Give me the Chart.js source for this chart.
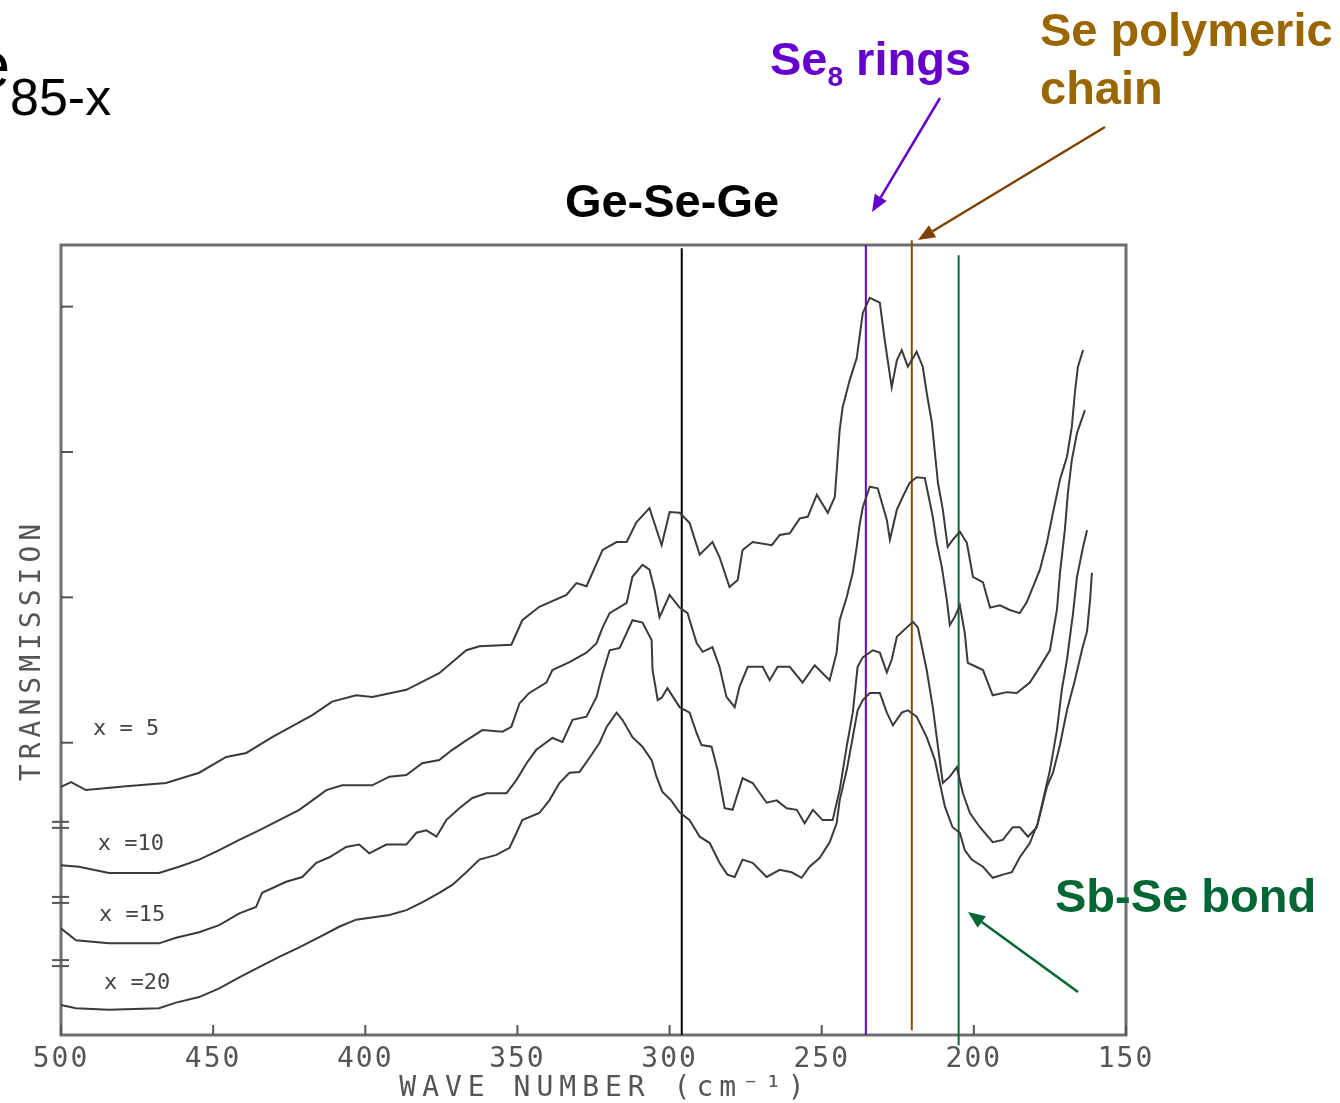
<!DOCTYPE html>
<html>
<head>
<meta charset="utf-8">
<script src="https://cdn.jsdelivr.net/npm/chart.js@4.4.0/dist/chart.umd.min.js"></script>
<style>
  html, body { margin: 0; padding: 0; background: #fff; }
</style>
</head>
<body>
<canvas id="chart" width="1340" height="1103"></canvas>
<script>
// IR transmission spectra, wave number (cm-1) vs transmission (arb. units, frame bottom = 0, top = 100)
const curveX5 = [[500,31.4],[496.7,32.0],[491.8,31.0],[478.6,31.5],[465.5,31.9],[454.6,33.2],[445.7,35.2],[439.1,35.7],[430.6,37.7],[424.0,39.1],[417.4,40.5],[410.9,42.2],[403.0,43.0],[397.7,42.8],[386.5,43.7],[375.7,45.8],[366.8,48.7],[362.5,49.2],[352.0,49.4],[348.4,52.5],[342.8,54.2],[333.9,55.7],[330.6,57.2],[327.3,56.8],[322.0,61.4],[317.4,62.4],[314.1,62.4],[310.9,64.9],[306.6,66.7],[302.6,62.0],[300.0,66.2],[296.7,66.1],[293.4,64.8],[290.1,60.8],[285.9,62.4],[283.6,60.5],[280.3,56.7],[277.6,57.6],[276.0,61.4],[272.7,62.4],[266.4,62.0],[263.8,63.3],[260.5,63.5],[257.2,65.4],[254.6,65.6],[251.6,68.4],[248.0,66.1],[245.7,68.1],[244.1,76.6],[243.1,79.5],[240.8,82.9],[238.5,85.7],[236.5,91.4],[234.2,93.3],[230.9,92.7],[229.3,88.0],[227.0,82.0],[225.3,85.4],[223.7,86.7],[221.7,84.6],[218.8,86.5],[216.8,84.6],[215.5,81.3],[213.8,77.5],[211.8,69.9],[210.2,66.5],[208.6,61.8],[206.9,62.7],[204.6,63.7],[202.3,62.3],[200.3,58.0],[197.0,57.3],[194.7,54.1],[191.4,54.4],[188.2,53.8],[184.9,53.4],[182.6,54.8],[180.6,56.7],[178.3,58.9],[176.0,62.3],[174.0,66.1],[171.7,70.3],[169.4,73.2],[167.8,77.0],[166.8,81.3],[165.8,84.6],[164.1,86.7]];
const curveX10 = [[500,21.5],[494.1,21.3],[484.2,20.5],[467.8,20.5],[461.2,21.3],[454.6,22.2],[448.0,23.4],[441.4,24.7],[434.9,25.9],[428.3,27.2],[421.7,28.5],[417.4,29.7],[412.8,31.0],[407.6,31.6],[397.7,31.6],[392.1,32.7],[386.5,32.9],[381.3,34.4],[375.7,34.8],[371.4,36.1],[366.8,37.3],[361.5,38.6],[354.9,38.4],[352.0,39.0],[349.3,42.0],[346.1,43.3],[340.5,44.6],[338.5,46.2],[332.9,47.2],[327.3,48.4],[324.0,49.6],[322.0,51.6],[319.7,53.4],[314.1,54.7],[312.2,58.0],[308.9,59.5],[306.6,58.9],[304.9,56.3],[303.3,52.9],[300.0,55.7],[296.7,54.1],[294.1,53.4],[291.1,49.6],[289.1,48.5],[285.9,49.1],[283.6,46.6],[281.3,42.8],[278.6,41.5],[277.0,44.1],[274.3,46.6],[269.4,46.6],[267.1,44.9],[264.5,46.6],[260.5,46.6],[256.3,44.6],[252.3,46.8],[247.4,44.9],[245.1,48.4],[244.1,52.5],[241.8,55.4],[239.8,58.5],[238.5,61.8],[237.5,64.7],[236.5,66.8],[234.2,69.4],[231.6,69.2],[228.6,65.2],[227.6,62.7],[225.3,66.5],[223.4,68.1],[221.1,69.9],[218.8,70.6],[216.1,70.5],[213.5,65.6],[212.2,62.3],[210.5,59.2],[208.9,55.1],[207.9,51.9],[206.3,52.9],[204.6,54.4],[203.0,50.9],[202.0,47.1],[200.3,46.8],[197.0,46.2],[193.8,43.0],[189.1,43.4],[185.9,43.3],[181.6,44.6],[178.3,46.6],[175.0,48.7],[172.7,53.8],[171.7,58.5],[170.1,63.9],[169.1,68.6],[167.8,72.8],[166.1,76.2],[163.5,79.1]];
const curveX15 = [[500,13.5],[495.1,12.0],[484.2,11.6],[467.8,11.6],[462.2,12.3],[454.6,13.0],[448.0,13.9],[441.4,15.4],[435.9,16.2],[433.9,18.0],[426.0,19.4],[420.7,20.0],[416.1,21.8],[411.8,22.5],[406.3,23.8],[402.0,24.1],[398.7,23.0],[393.1,24.1],[386.5,24.1],[383.2,25.6],[379.9,25.9],[376.6,25.1],[373.4,27.2],[369.1,28.7],[364.8,30.0],[360.2,30.6],[353.6,30.6],[350.3,32.3],[347.0,34.4],[343.8,36.1],[338.5,37.6],[335.2,37.1],[331.9,39.9],[327.3,40.3],[324.0,42.8],[322.0,45.8],[319.7,48.7],[316.4,49.0],[314.1,50.9],[312.2,52.5],[308.9,52.2],[305.9,50.0],[305.6,46.2],[303.9,42.4],[302.6,42.7],[300.7,43.9],[296.7,41.5],[293.4,40.8],[291.1,38.2],[289.5,36.7],[286.2,36.5],[284.2,33.5],[281.9,28.7],[279.3,28.5],[276.0,32.5],[272.7,31.9],[268.1,29.4],[264.8,29.7],[261.5,28.7],[258.2,28.5],[255.6,26.8],[252.9,28.5],[249.7,27.2],[246.4,27.2],[244.1,31.0],[241.8,36.5],[239.8,40.8],[238.2,46.6],[236.5,47.8],[233.2,48.7],[230.9,48.4],[228.6,45.9],[227.0,47.5],[225.3,50.4],[222.0,51.6],[220.0,52.3],[218.4,51.6],[215.5,46.2],[213.5,41.5],[211.8,36.5],[210.2,31.9],[207.9,32.7],[205.6,33.9],[203.6,30.6],[201.3,28.1],[198.0,26.3],[193.8,24.4],[190.5,24.7],[187.2,26.3],[184.9,26.3],[182.2,25.1],[179.3,26.3],[177.3,29.7],[175.0,33.5],[172.7,38.6],[171.1,43.7],[169.4,47.5],[167.4,53.4],[166.1,58.0],[164.1,61.8],[162.8,63.9]];
const curveX20 = [[500,3.8],[495.1,3.4],[484.2,3.2],[467.8,3.4],[462.2,4.1],[454.6,4.8],[448.0,5.9],[441.4,7.3],[434.9,8.6],[428.3,9.9],[421.7,11.1],[415.1,12.4],[408.6,13.7],[403.0,14.6],[392.1,15.2],[386.5,15.8],[381.3,16.8],[375.7,18.0],[371.4,19.0],[366.8,20.6],[362.5,22.2],[356.9,22.8],[352.6,23.7],[350.3,25.6],[348.4,27.2],[342.8,28.1],[339.5,29.7],[336.2,31.9],[332.9,33.2],[329.6,33.3],[326.3,35.1],[323.0,37.0],[320.7,39.0],[317.4,40.8],[315.5,39.9],[312.2,37.7],[308.9,36.5],[305.9,34.8],[304.3,32.7],[302.4,30.8],[299.5,29.7],[296.7,28.2],[293.4,27.2],[290.1,25.1],[286.8,24.3],[283.6,21.8],[281.0,20.3],[278.6,20.0],[276.0,22.2],[272.7,21.8],[268.1,20.0],[263.8,20.9],[259.9,20.6],[256.6,19.9],[254.0,21.3],[250.7,22.4],[247.4,24.4],[245.1,26.8],[244.1,29.7],[241.8,33.5],[239.8,37.7],[238.2,41.1],[236.5,42.4],[234.2,43.3],[230.9,43.3],[228.6,40.8],[226.6,39.2],[223.7,40.8],[221.7,41.1],[218.8,40.3],[215.5,37.7],[212.8,34.8],[211.2,31.9],[209.5,28.9],[207.0,26.3],[204.6,25.6],[203.0,23.4],[200.7,22.2],[197.0,21.3],[193.8,19.9],[190.5,20.3],[187.5,20.6],[184.9,22.5],[181.6,24.3],[179.0,26.8],[177.3,29.4],[176.0,31.4],[174.0,33.2],[171.7,36.7],[169.4,41.1],[166.8,44.9],[164.5,48.7],[162.8,51.1],[161.8,55.1],[161.2,58.5]];

const seriesNames = ["x = 5", "x =10", "x =15", "x =20"];
const bandNames = ["Ge-Se-Ge", "Se8 rings", "Se polymeric chain", "Sb-Se bond"];
const bandWave = [296, 235.5, 220.4, 205];
const bandTop = [99.6, 100, 100.6, 98.7];
const bandBottom = [0, 0, 0.6, -1.3];
const xTicks = [500, 450, 400, 350, 300, 250, 200, 150];
const yTicks = [92.2, 73.8, 55.4, 37.0];
const breakMarks = [26.6, 17.1, 9.1];

const curves = [curveX5, curveX10, curveX15, curveX20];
const bandColors = ['#000000', '#6a00d0', '#8a4a00', '#006b3a'];
const labelPos = [[478.6, 38.7], [477, 24.2], [476.6, 15.1], [475, 6.6]];

const datasets = curves.map((c, i) => ({
  label: seriesNames[i],
  data: c.map(p => ({ x: p[0], y: p[1] })),
  borderColor: '#3a3a3a',
  borderWidth: 2,
  pointRadius: 0,
  tension: 0
}));
bandWave.forEach((w, i) => {
  datasets.push({
    label: bandNames[i],
    data: [{ x: w, y: bandBottom[i] }, { x: w, y: bandTop[i] }],
    borderColor: bandColors[i],
    borderWidth: 2,
    pointRadius: 0,
    clip: false
  });
});

function arrow(ctx, x1, y1, x2, y2, color) {
  const a = Math.atan2(y2 - y1, x2 - x1);
  const head = 17, wing = 7;
  const bx = x2 - head * Math.cos(a), by = y2 - head * Math.sin(a);
  ctx.strokeStyle = color;
  ctx.fillStyle = color;
  ctx.lineWidth = 2.5;
  ctx.beginPath();
  ctx.moveTo(x1, y1);
  ctx.lineTo(bx, by);
  ctx.stroke();
  ctx.beginPath();
  ctx.moveTo(x2, y2);
  ctx.lineTo(bx + wing * Math.sin(a), by - wing * Math.cos(a));
  ctx.lineTo(bx - wing * Math.sin(a), by + wing * Math.cos(a));
  ctx.closePath();
  ctx.fill();
}

const decor = {
  id: 'decor',
  beforeDraw(chart) {
    chart.ctx.letterSpacing = '2px';
  },
  beforeDatasetsDraw(chart) {
    const { ctx, chartArea: a, scales: { x, y } } = chart;
    ctx.save();
    ctx.letterSpacing = '0px';
    // frame
    ctx.strokeStyle = '#6f6f6f';
    ctx.lineWidth = 3;
    ctx.strokeRect(a.left, a.top, a.right - a.left, a.bottom - a.top);
    // inward ticks
    ctx.lineWidth = 2;
    ctx.strokeStyle = '#555';
    xTicks.forEach(v => {
      const px = x.getPixelForValue(v);
      ctx.beginPath(); ctx.moveTo(px, a.bottom); ctx.lineTo(px, a.bottom - 10); ctx.stroke();
    });
    yTicks.forEach(v => {
      const py = y.getPixelForValue(v);
      ctx.beginPath(); ctx.moveTo(a.left, py); ctx.lineTo(a.left + 12, py); ctx.stroke();
    });
    // axis break marks
    breakMarks.forEach(v => {
      const py = y.getPixelForValue(v);
      [-3, 3].forEach(d => {
        ctx.beginPath(); ctx.moveTo(a.left - 9, py + d); ctx.lineTo(a.left + 8, py + d); ctx.stroke();
      });
    });
    ctx.restore();
  },
  afterDraw(chart) {
    const { ctx, scales: { x, y } } = chart;
    ctx.save();
    ctx.letterSpacing = '0px';
    // curve labels
    ctx.font = '22px "DejaVu Sans Mono"';
    ctx.fillStyle = '#444';
    ctx.textAlign = 'center';
    ctx.textBaseline = 'middle';
    labelPos.forEach((p, i) => {
      ctx.fillText(seriesNames[i], x.getPixelForValue(p[0]), y.getPixelForValue(p[1]));
    });
    // axis titles
    ctx.font = '28px "DejaVu Sans Mono"';
    ctx.fillStyle = '#555';
    ctx.letterSpacing = '6px';
    ctx.fillText('WAVE NUMBER (cm\u207B\u00B9)', 605, 1089);
    ctx.save();
    ctx.translate(33, 650);
    ctx.rotate(-Math.PI / 2);
    ctx.letterSpacing = '5px';
    ctx.fillText('TRANSMISSION', 0, 0);
    ctx.restore();
    ctx.letterSpacing = '0px';

    // annotations
    ctx.textBaseline = 'alphabetic';
    ctx.font = 'bold 47px "Liberation Sans"';
    ctx.fillStyle = '#000';
    ctx.textAlign = 'center';
    ctx.fillText(bandNames[0], 672, 217);

    ctx.textAlign = 'left';
    ctx.fillStyle = '#6600cc';
    ctx.fillText('Se', 770, 75);
    let w = ctx.measureText('Se').width;
    ctx.font = 'bold 28px "Liberation Sans"';
    ctx.fillText('8', 770 + w, 86);
    const w8 = ctx.measureText('8').width;
    ctx.font = 'bold 47px "Liberation Sans"';
    ctx.fillText(' rings', 770 + w + w8, 75);

    ctx.fillStyle = '#996600';
    ctx.fillText('Se polymeric', 1040, 46);
    ctx.fillText('chain', 1040, 104);

    ctx.fillStyle = '#006633';
    ctx.fillText(bandNames[3], 1055, 912);

    arrow(ctx, 940, 98, 872, 212, '#6600cc');
    arrow(ctx, 1105, 127, 918, 240, '#7f4000');
    arrow(ctx, 1078, 992, 968, 912, '#006633');

    // title fragment cut by the left edge
    ctx.fillStyle = '#000';
    ctx.font = '64px "Liberation Sans"';
    ctx.textAlign = 'right';
    ctx.fillText('e', 10, 87);
    ctx.font = '52px "Liberation Sans"';
    ctx.textAlign = 'left';
    ctx.fillText('85-x', 10, 115);
    ctx.restore();
  }
};

new Chart(document.getElementById('chart'), {
  type: 'line',
  data: { datasets: datasets },
  options: {
    responsive: false,
    animation: false,
    devicePixelRatio: 1,
    layout: { padding: { left: 61, right: 214, top: 245, bottom: 0 } },
    plugins: { legend: { display: false }, tooltip: { enabled: false } },
    scales: {
      x: {
        type: 'linear',
        reverse: true,
        min: 150,
        max: 500,
        grid: { display: false, drawTicks: false },
        border: { display: false },
        ticks: {
          padding: 8,
          autoSkip: false,
          maxRotation: 0,
          color: '#555',
          font: { family: 'DejaVu Sans Mono', size: 28 }
        },
        afterBuildTicks: s => { s.ticks = xTicks.map(v => ({ value: v })); },
        afterFit: s => { s.height = 68; }
      },
      y: { display: false, min: 0, max: 100 }
    }
  },
  plugins: [decor]
});
</script>
</body>
</html>
